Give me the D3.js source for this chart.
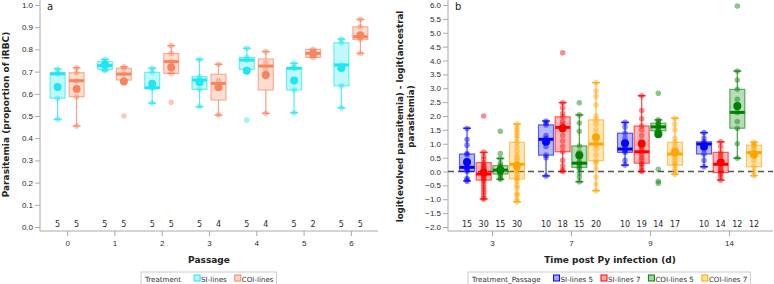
<!DOCTYPE html>
<html>
<head>
<meta charset="utf-8">
<script src="https://cdn.jsdelivr.net/npm/d3@7"></script>
<style>
  body { margin: 0; background: #fff; }
  svg { font-family: "DejaVu Sans", Verdana, sans-serif; }
  .tick text { fill: #2a2a2a; font-size: 8px; }
  .tick line { stroke: #aaa; }
  .ax-label { font-weight: bold; font-size: 9px; fill: #222; }
  .cnt { font-size: 8px; fill: #2a2a2a; }
</style>
</head>
<body>
<svg id="chart" width="774" height="284"></svg>
<script>
// ---- panel a data ----
var passages = ['0', '1', '2', '3', '4', '5', '6'];
var treatments = ['SI-lines', 'COI-lines'];
var aColors = ['#1ee6f2', '#f7845c'];
var aCounts = [[5, 5], [5, 5], [5, 5], [5, 4], [5, 4], [5, 2], [5, 5]];
var aLo   = [[.485, .455], [.705, .662], [.558, .692], [.542, .504], [.71, .512], [.515, .764], [.537, .782]];
var aQ1   = [[.58, .587], [.71, .662], [.625, .692], [.62, .572], [.71, .617], [.617, .764], [.636, .845]];
var aMed  = [[.69, .659], [.727, .689], [.627, .745], [.662, .647], [.752, .725], [.715, .782], [.73, .857]];
var aQ3   = [[.695, .695], [.745, .715], [.697, .782], [.677, .688], [.764, .757], [.718, .80], [.83, .902]];
var aHi   = [[.712, .717], [.755, .722], [.715, .817], [.755, .733], [.805, .79], [.737, .80], [.847, .935]];
var aMean = [[.631, .622], [.731, .655], [.645, .72], [.652, .629], [.704, .685], [.66, .782], [.716, .864]];
var aPoints = [
  [[.712, .695, .69, .58, .485], [.717, .695, .659, .587, .455]],
  [[.755, .745, .727, .71, .705], [.722, .715, .689, .662, .50]],
  [[.715, .697, .627, .625, .558], [.817, .782, .745, .692, .562]],
  [[.755, .677, .662, .62, .542], [.733, .66, .634, .504]],
  [[.805, .764, .752, .71, .482], [.79, .74, .71, .512]],
  [[.737, .718, .715, .617, .515], [.80, .764]],
  [[.847, .83, .73, .636, .537], [.935, .902, .857, .845, .782]]
];

// ---- panel b data ----
var days = ['3', '7', '9', '14'];
var groups = ['SI-lines 5', 'SI-lines 7', 'COI-lines 5', 'COI-lines 7'];
var bColors = ['#0000ff', '#ff0000', '#008000', '#ffa500'];
var bCounts = [[15, 30, 15, 30], [10, 18, 15, 20], [10, 19, 14, 17], [10, 14, 12, 12]];
var bLo   = [[-0.34, -0.99, -0.28, -1.09], [-0.16, 0.0, -0.37, -0.69], [0.23, 0.0, 1.42, -0.1], [0.17, -0.31, 0.48, -0.15]];
var bQ1   = [[0.0, -0.31, -0.09, -0.27], [0.59, 0.71, 0.15, 0.39], [0.69, 0.3, 1.47, 0.23], [0.63, -0.04, 1.56, 0.17]];
var bMed  = [[0.15, -0.09, 0.05, 0.26], [1.16, 1.59, 0.3, 0.99], [0.81, 0.71, 1.61, 0.63], [0.99, 0.26, 2.13, 0.68]];
var bQ3   = [[0.63, 0.32, 0.21, 1.05], [1.68, 1.97, 0.92, 1.86], [1.38, 1.64, 1.74, 1.05], [1.07, 0.69, 2.96, 0.95]];
var bHi   = [[1.56, 0.69, 0.47, 1.71], [1.82, 2.48, 2.04, 3.2], [1.77, 2.73, 1.86, 1.92], [1.4, 1.07, 3.62, 1.05]];
var bMean = [[0.34, -0.04, 0.05, 0.2], [1.07, 1.56, 0.59, 1.23], [1.02, 1.0, 1.34, 0.71], [0.9, 0.33, 2.36, 0.6]];
var bPoints = [
  [[1.55, 1.15, 0.95, 0.65, 0.6, 0.35, 0.2, 0.15, 0.15, 0.1, 0.05, 0.0, -0.25, -0.3, -0.35],
   [2.0, 0.7, 0.55, 0.45, 0.32, 0.25, 0.2, 0.15, 0.1, 0.05, 0.0, -0.05, -0.1, -0.15, -0.2, -0.25, -0.3, -0.35, -0.45, -0.55, -0.65, -0.75, -0.85, -0.95, -1.0],
   [1.45, 0.65, 0.47, 0.3, 0.21, 0.15, 0.1, 0.05, 0.0, -0.05, -0.09, -0.15, -0.25, -0.28],
   [1.71, 1.6, 1.5, 1.4, 1.3, 1.2, 1.05, 0.9, 0.75, 0.6, 0.5, 0.4, 0.3, 0.25, 0.2, 0.15, 0.1, 0.05, 0.0, -0.1, -0.2, -0.27, -0.35, -0.5, -0.6, -0.8, -0.85, -1.0, -1.09]],
  [[1.82, 1.75, 1.68, 1.3, 1.2, 1.1, 0.9, 0.59, 0.5, -0.16],
   [4.28, 2.48, 2.3, 2.1, 1.97, 1.8, 1.7, 1.6, 1.5, 1.3, 1.1, 0.9, 0.71, 0.4, 0.2, 0.05, 0.0],
   [2.48, 2.04, 1.75, 1.45, 0.92, 0.7, 0.5, 0.35, 0.3, 0.25, 0.15, 0.1, -0.05, -0.2, -0.37],
   [3.2, 2.9, 2.7, 2.4, 2.0, 1.86, 1.7, 1.5, 1.3, 1.1, 1.0, 0.95, 0.8, 0.6, 0.39, 0.3, 0.1, -0.2, -0.45, -0.69]],
  [[1.77, 1.6, 1.38, 1.2, 0.9, 0.8, 0.75, 0.69, 0.4, 0.23],
   [2.73, 2.2, 1.9, 1.64, 1.5, 1.3, 1.1, 0.9, 0.8, 0.71, 0.6, 0.5, 0.4, 0.3, 0.25, 0.15, 0.05, 0.0],
   [2.82, 1.86, 1.8, 1.74, 1.7, 1.65, 1.61, 1.55, 1.5, 1.47, 0.08, -0.35, -0.42],
   [1.92, 1.7, 1.5, 1.2, 1.05, 0.9, 0.8, 0.7, 0.63, 0.6, 0.5, 0.4, 0.3, 0.23, 0.1, 0.0, -0.1]],
  [[1.4, 1.2, 1.07, 1.0, 0.99, 0.9, 0.8, 0.63, 0.4, 0.17],
   [1.07, 0.9, 0.69, 0.6, 0.5, 0.35, 0.26, 0.2, 0.1, 0.05, -0.04, -0.1, -0.2, -0.31],
   [5.96, 3.62, 3.3, 2.96, 2.6, 2.3, 2.13, 1.8, 1.56, 1.0, 0.48],
   [1.05, 1.0, 0.95, 0.9, 0.8, 0.7, 0.68, 0.6, 0.4, 0.17, 0.0, -0.15]]
];

var svg = d3.select('#chart');

// draws one boxplot panel
function drawPanel(opt) {
  var g = svg.append('g');
  var x = d3.scalePoint().domain(opt.cats).range([opt.left, opt.right]).padding(opt.pad);
  var sub = d3.scaleBand().domain(opt.groups).range([-opt.subHalf, opt.subHalf]);
  var y = d3.scaleLinear().domain(opt.yDomain).range([opt.yBottom, 5]);
  var axisY = 231;

  // y axis
  var ya = g.append('g').attr('transform', 'translate(' + opt.left + ',0)')
    .call(d3.axisLeft(y).tickValues(opt.yTicks).tickFormat(d3.format('.1f')).tickSize(5).tickSizeOuter(0));
  ya.select('.domain').remove();
  ya.selectAll('.tick text').attr('x', -7);
  g.append('line').attr('x1', opt.left).attr('x2', opt.left).attr('y1', 0).attr('y2', axisY)
    .attr('stroke', '#aaa');

  // x axis
  var xa = g.append('g').attr('transform', 'translate(0,' + axisY + ')')
    .call(d3.axisBottom(x).tickSize(5).tickSizeOuter(0));
  xa.select('.domain').remove();
  xa.selectAll('.tick text').attr('y', 15).attr('dy', 0);
  g.append('line').attr('x1', opt.left).attr('x2', opt.right).attr('y1', axisY).attr('y2', axisY)
    .attr('stroke', '#aaa');

  if (opt.refLine != null) {
    g.append('line').attr('x1', opt.left).attr('x2', opt.right)
      .attr('y1', y(opt.refLine)).attr('y2', y(opt.refLine))
      .attr('stroke', '#555').attr('stroke-width', 1.3).attr('stroke-dasharray', '6,4');
  }

  g.append('text').attr('x', opt.left + 7).attr('y', 10).attr('font-size', 10).attr('fill', '#222').text(opt.tag);

  var bw = 15, cap = 4;
  opt.cats.forEach(function(c, i) {
    opt.groups.forEach(function(s, j) {
      var cx = x(c) + sub(s) + sub.bandwidth() / 2;
      var col = opt.colors[j];
      var bg = g.append('g');
      // whiskers
      bg.append('line').attr('x1', cx).attr('x2', cx).attr('y1', y(opt.hi[i][j])).attr('y2', y(opt.q3[i][j]))
        .attr('stroke', col).attr('stroke-opacity', 0.75).attr('stroke-width', 1.2);
      bg.append('line').attr('x1', cx).attr('x2', cx).attr('y1', y(opt.q1[i][j])).attr('y2', y(opt.lo[i][j]))
        .attr('stroke', col).attr('stroke-opacity', 0.75).attr('stroke-width', 1.2);
      [opt.hi[i][j], opt.lo[i][j]].forEach(function(v) {
        bg.append('line').attr('x1', cx - cap).attr('x2', cx + cap).attr('y1', y(v)).attr('y2', y(v))
          .attr('stroke', col).attr('stroke-opacity', 0.8).attr('stroke-width', 1.5);
      });
      // box
      bg.append('rect').attr('x', cx - bw / 2).attr('width', bw)
        .attr('y', y(opt.q3[i][j])).attr('height', Math.max(1, y(opt.q1[i][j]) - y(opt.q3[i][j])))
        .attr('fill', col).attr('fill-opacity', 0.28)
        .attr('stroke', col).attr('stroke-opacity', 0.6).attr('stroke-width', 1.2);
      // points
      bg.selectAll('circle.pt').data(opt.points[i][j]).enter().append('circle')
        .attr('class', 'pt').attr('cx', cx).attr('cy', function(d) { return y(d); })
        .attr('r', 2.8).attr('fill', col).attr('fill-opacity', 0.45);
      // median
      bg.append('line').attr('x1', cx - bw / 2).attr('x2', cx + bw / 2)
        .attr('y1', y(opt.med[i][j])).attr('y2', y(opt.med[i][j]))
        .attr('stroke', col).attr('stroke-width', 3);
      // mean
      bg.append('circle').attr('cx', cx).attr('cy', y(opt.mean[i][j])).attr('r', 4).attr('fill', col);
      // count
      g.append('text').attr('class', 'cnt').attr('x', cx).attr('y', 227)
        .attr('text-anchor', 'middle').text(opt.counts[i][j]);
    });
  });

  // axis titles
  g.append('text').attr('class', 'ax-label').attr('x', opt.xTitleX).attr('y', 262.5)
    .attr('text-anchor', 'middle').text(opt.xTitle);
  opt.yTitle.forEach(function(t, k) {
    var yt = g.append('text').attr('class', 'ax-label')
      .attr('transform', 'translate(' + (opt.yTitleX + k * 11) + ',' + opt.yTitleY + ') rotate(-90)')
      .attr('text-anchor', 'middle').text(t);
    // shrink the title so it fits the height it takes in the picture
    if (k === 0 && opt.yTitleLen) {
      var len = yt.node().getComputedTextLength();
      opt.yFont = 9 * opt.yTitleLen / len;
    }
    if (opt.yFont) yt.style('font-size', opt.yFont + 'px');
  });

  // legend
  var lg = g.append('g');
  var lx = opt.legendX + 4;
  var frame = lg.append('rect').attr('x', opt.legendX).attr('y', 272).attr('height', 13)
    .attr('fill', '#fff').attr('stroke', '#ccc');
  var title = lg.append('text').attr('x', lx).attr('y', 281.5).attr('font-size', 7.1).attr('fill', '#333').text(opt.legendTitle);
  lx += title.node().getComputedTextLength() + 13;
  opt.groups.forEach(function(s, j) {
    lg.append('rect').attr('x', lx).attr('y', 275).attr('width', 6).attr('height', 6)
      .attr('fill', opt.colors[j]).attr('fill-opacity', 0.35).attr('stroke', opt.colors[j]);
    var t = lg.append('text').attr('x', lx + 7).attr('y', 281.5).attr('font-size', 7.1).attr('fill', '#333').text(s);
    lx += 7 + t.node().getComputedTextLength() + 8;
  });
  frame.attr('width', lx - opt.legendX - 5);
}

drawPanel({
  tag: 'a', cats: passages, groups: treatments, colors: aColors,
  left: 40, right: 378, pad: 0.573, subHalf: 19,
  yDomain: [0, 1], yBottom: 227, yTicks: d3.range(0, 1.01, 0.1),
  lo: aLo, q1: aQ1, med: aMed, q3: aQ3, hi: aHi, mean: aMean, points: aPoints, counts: aCounts,
  xTitle: 'Passage', xTitleX: 209, yTitle: ['Parasitemia (proportion of iRBC)'], yTitleX: 9, yTitleY: 114.5,
  yTitleLen: 166,
  legendTitle: 'Treatment', legendX: 141
});

drawPanel({
  tag: 'b', cats: days, groups: groups, colors: bColors,
  left: 448, right: 773, pad: 0.557, subHalf: 33.3,
  yDomain: [-2, 6], yBottom: 227, yTicks: d3.range(-2, 6.01, 0.5),
  refLine: 0,
  lo: bLo, q1: bQ1, med: bMed, q3: bQ3, hi: bHi, mean: bMean, points: bPoints, counts: bCounts,
  xTitle: 'Time post Py infection (d)', xTitleX: 610,
  yTitle: ['logit(evolved parasitemia) - logit(ancestral', 'parasitemia)'], yTitleX: 403, yTitleY: 116.5,
  yTitleLen: 212,
  legendTitle: 'Treatment_Passage', legendX: 468
});
</script>
</body>
</html>
